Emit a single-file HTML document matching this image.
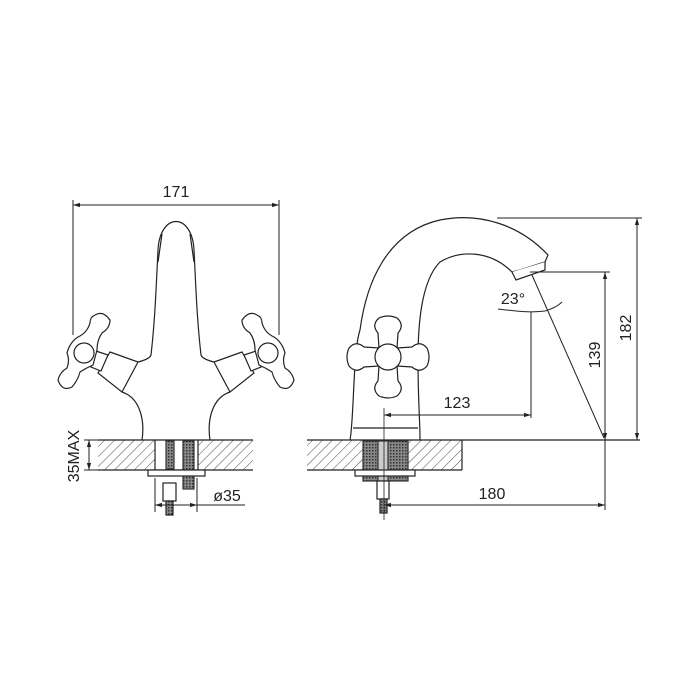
<!DOCTYPE html>
<html><head><meta charset="utf-8"><style>
html,body{margin:0;padding:0;background:#fff}
svg{display:block}
text{font-family:"Liberation Sans",sans-serif;fill:#222}
</style></head><body>
<svg width="700" height="700" viewBox="0 0 700 700" xmlns="http://www.w3.org/2000/svg">
<defs>
<pattern id="h" patternUnits="userSpaceOnUse" width="7" height="7" patternTransform="rotate(45)">
<line x1="0" y1="0" x2="0" y2="7" stroke="#333" stroke-width="0.9"/>
</pattern>
<pattern id="t" patternUnits="userSpaceOnUse" width="3" height="3">
<rect width="3" height="3" fill="#888"/><rect width="1.5" height="1.5" fill="#333"/>
</pattern>
<path id="cross" d="M9,-9 L24,-10 Q32,-17 39,-9 Q43,0 39,9 Q32,17 24,10 L9,9 L10,24 Q17,32 9,39 Q0,43 -9,39 Q-17,32 -10,24 L-9,9 L-24,10 Q-32,17 -39,9 Q-43,0 -39,-9 Q-32,-17 -24,-10 L-9,-9 L-10,-24 Q-17,-32 -9,-39 Q0,-43 9,-39 Q17,-32 10,-24 Z"/>
<path id="lx" d="M95,315 Q103,310 110,320 Q110,328 102,333 Q97,340 97,350 L93,365 Q86,368 80,372 Q78,380 72,387 Q62,392 58,380 Q60,372 67,368 Q70,360 67,353 Q70,342 78,337 Q87,333 90,323 Q90,317 95,315 Z"/>
<marker id="a" viewBox="0 0 10 10" refX="10" refY="5" markerWidth="7" markerHeight="7" orient="auto-start-reverse"><path d="M0,2 L10,5 L0,8 Z" fill="#222"/></marker>
</defs>
<g fill="none" stroke="#222" stroke-width="1.2">
<!-- LEFT VIEW -->
<rect x="98" y="440" width="57" height="30" fill="url(#h)" stroke="none"/>
<rect x="198" y="440" width="55" height="30" fill="url(#h)" stroke="none"/>
<line x1="98" y1="440" x2="253" y2="440"/>
<line x1="98" y1="470" x2="253" y2="470"/>
<line x1="155" y1="440" x2="155" y2="470"/>
<line x1="198" y1="440" x2="198" y2="470"/>
<rect x="166" y="441" width="8" height="28" fill="url(#t)" stroke="#333"/>
<rect x="183" y="441" width="11" height="48" fill="url(#t)" stroke="#333"/>
<rect x="148" y="470" width="57" height="6" fill="#fff"/>
<rect x="163" y="483" width="13" height="18" fill="#fff"/>
<rect x="166" y="501" width="7" height="14" fill="url(#t)"/>
<!-- body -->
<path d="M142,440 C145,420 140,398 122,392 M210,440 C207,420 212,398 230,392"/>
<path d="M138,362 C146,360 150,358 151,355 C155,320 156,290 158,250 C160,212 192,212 194,250 C196,290 197,320 201,355 C202,358 206,360 214,362"/>
<path d="M158,262 L162,234 M194,262 L190,234"/>
<!-- left handle -->
<path d="M110,352 L138,362 L122,392 L98,373 Z" fill="#fff"/>
<path d="M96,351 L108,355 L101,371 L91,367 Z" fill="#fff"/>
<use href="#lx" fill="#fff"/>
<circle cx="84" cy="353" r="10" fill="#fff"/>
<path d="M242,352 L214,362 L230,392 L254,373 Z" fill="#fff"/>
<path d="M256,351 L244,355 L251,371 L261,367 Z" fill="#fff"/>
<use href="#lx" transform="translate(352,0) scale(-1,1)" fill="#fff"/>
<circle cx="268" cy="353" r="10" fill="#fff"/>
<!-- dims left -->
<line x1="73" y1="200" x2="73" y2="335" stroke-width="1"/>
<line x1="279" y1="200" x2="279" y2="335" stroke-width="1"/>
<line x1="73" y1="205" x2="279" y2="205" stroke-width="1" marker-start="url(#a)" marker-end="url(#a)"/>
<line x1="89" y1="440" x2="89" y2="470" stroke-width="1" marker-start="url(#a)" marker-end="url(#a)"/>
<line x1="84" y1="440" x2="98" y2="440" stroke-width="1"/>
<line x1="84" y1="470" x2="98" y2="470" stroke-width="1"/>
<line x1="155" y1="478" x2="155" y2="512" stroke-width="1"/>
<line x1="197" y1="478" x2="197" y2="512" stroke-width="1"/>
<line x1="155" y1="505" x2="197" y2="505" stroke-width="1" marker-start="url(#a)" marker-end="url(#a)"/>
<line x1="197" y1="505" x2="245" y2="505" stroke-width="1"/>

<!-- RIGHT VIEW -->
<rect x="307" y="440" width="155" height="30" fill="url(#h)" stroke="none"/>
<line x1="307" y1="440" x2="640" y2="440"/>
<line x1="307" y1="470" x2="462" y2="470"/>
<line x1="462" y1="440" x2="462" y2="470"/>
<rect x="363" y="441" width="45" height="40" fill="url(#t)" stroke="#333"/>
<rect x="378" y="441" width="10" height="40" fill="#ccc" stroke="#333"/>
<rect x="355" y="470" width="60" height="6" fill="#fff"/>
<rect x="377" y="481" width="12" height="18" fill="#fff"/>
<rect x="380" y="499" width="7" height="14" fill="url(#t)"/>
<line x1="384" y1="408" x2="384" y2="520" stroke-width="0.8"/>
<!-- spout -->
<path d="M350,440 C354,420 353,350 360,330 C368,270 395,230 440,220 C480,212 520,225 548,255 L545,262 L520,270 L512,272 C490,250 460,250 440,262 C420,282 418,330 418,360 C418,400 420,420 420,440"/>
<path d="M353,428 L418,428"/>
<path d="M512,272 L516,280 L545,270 L545,262" fill="#fff"/>
<use href="#cross" transform="translate(388,357)" fill="#fff"/>
<circle cx="388" cy="357" r="13" fill="#fff"/>
<!-- dims right -->
<line x1="497" y1="218" x2="642" y2="218" stroke-width="1"/>
<line x1="637" y1="218" x2="637" y2="440" stroke-width="1" marker-start="url(#a)" marker-end="url(#a)"/>
<line x1="530" y1="272" x2="610" y2="272" stroke-width="1"/>
<line x1="605" y1="272" x2="605" y2="440" stroke-width="1" marker-start="url(#a)" marker-end="url(#a)"/>
<line x1="532" y1="275" x2="604" y2="438" stroke-width="1"/>
<line x1="531" y1="312" x2="531" y2="418" stroke-width="1"/>
<line x1="384" y1="415" x2="531" y2="415" stroke-width="1" marker-start="url(#a)" marker-end="url(#a)"/>
<line x1="605" y1="440" x2="605" y2="510" stroke-width="1"/>
<line x1="384" y1="505" x2="605" y2="505" stroke-width="1" marker-start="url(#a)" marker-end="url(#a)"/>
<path d="M498,309 C515,311 528,313 545,311 C552,309 558,306 562,302" stroke-width="1"/>
</g>
<text x="176" y="197" font-size="16" text-anchor="middle">171</text>
<text x="227" y="501" font-size="16" text-anchor="middle">ø35</text>
<text transform="translate(79,456) rotate(-90)" font-size="16" text-anchor="middle">35MAX</text>
<text x="457" y="408" font-size="16" text-anchor="middle">123</text>
<text x="492" y="499" font-size="16" text-anchor="middle">180</text>
<text x="513" y="304" font-size="16" text-anchor="middle">23°</text>
<text transform="translate(600,355) rotate(-90)" font-size="16" text-anchor="middle">139</text>
<text transform="translate(631,328) rotate(-90)" font-size="16" text-anchor="middle">182</text>
</svg>
</body></html>
